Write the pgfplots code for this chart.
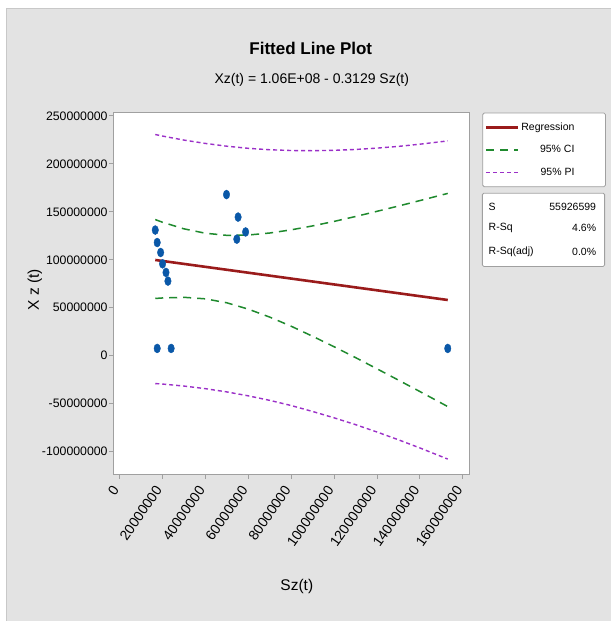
\documentclass[border=0pt]{standalone}
\usepackage{pgfplots}
\pgfplotsset{compat=1.18}
\usepackage{fontspec}
\setmainfont{Liberation Sans}
\definecolor{bg}{HTML}{E3E3E3}
\definecolor{bordergray}{HTML}{C8C8C8}
\definecolor{framegray}{HTML}{A0A0A0}
\definecolor{regred}{HTML}{9A1B1B}
\definecolor{cigreen}{HTML}{1F8A2E}
\definecolor{pipurple}{HTML}{9B30C8}
\definecolor{ptblue}{HTML}{0A58A8}

\pgfplotstableread{
x y
16.7 131
17.6 118
19.2 107.6
20.1 95.8
21.7 86.8
22.6 77.8
17.6 7.6
24.1 7.6
49.9 168
55.3 144.5
54.7 121.5
58.8 129
153 7.6
}\pts

\pgfplotstableread{
x ciu cil piu pil
16.7 141.9 59.7 230.6 -29.0
20 139.2 60.2 229.0 -29.5
30 132.3 60.9 224.8 -31.6
40 127.7 59.3 221.3 -34.3
50 125.5 55.2 218.4 -37.7
60 125.8 48.6 216.2 -41.8
70 127.9 40.3 214.7 -46.5
80 131.2 30.8 213.9 -51.9
90 135.3 20.3 213.7 -58.1
100 140.0 9.4 214.1 -64.7
110 145.1 -1.9 215.0 -71.8
120 150.5 -13.6 216.4 -79.5
130 156.0 -25.4 218.2 -87.6
140 161.7 -37.3 220.5 -96.1
153 169.2 -53.0 223.9 -107.7
}\bands

\begin{document}
\begin{tikzpicture}[x=1pt,y=1pt]
\fill[white] (0,0) rectangle (611,621);
\fill[bg] (6,0) rectangle (611,613);
\draw[bordergray, line width=0.8pt] (6,0) -- (6,613) -- (611,613);

\begin{axis}[
  at={(113.3pt,146pt)}, anchor=south west,
  scale only axis, width=356pt, height=362.3pt,
  xmin=-2.89, xmax=162.9, ymin=-124, ymax=253.4,
  axis background/.style={fill=white},
  axis line style={draw=framegray, line width=1pt},
  tick pos=left, tick align=outside, major tick length=4pt,
  tick style={framegray, line width=0.8pt},
  scaled ticks=false,
  xtick={0,20,40,60,80,100,120,140,160},
  xticklabels={0,20000000,40000000,60000000,80000000,100000000,120000000,140000000,160000000},
  ytick={-100,-50,0,50,100,150,200,250},
  yticklabels={-100000000,-50000000,0,50000000,100000000,150000000,200000000,250000000},
  xticklabel style={font=\fontsize{14}{16}\selectfont, xshift=-3pt, yshift=-8pt, rotate=55, anchor=east, inner sep=1pt},
  yticklabel style={font=\fontsize{12.3}{14}\selectfont, inner sep=1.5pt},
  /pgf/number format/assume math mode=true,
  legend image code/.code={\draw[#1] (0pt,0pt) -- (32pt,0pt);},
  legend style={at={(1,1)}, anchor=north west, xshift=13.4pt,
    draw=framegray, fill=white, rounded corners=1.5pt, line width=0.8pt,
    font=\fontsize{10.5}{12}\selectfont, cells={anchor=east},
    inner xsep=2pt, inner ysep=8pt, row sep=9.5pt},
]
\addplot[regred, line width=2.6pt] coordinates {(16.7,99.8) (153,58.1)};
\addlegendentry{Regression\rule{27pt}{0pt}}
\addplot[cigreen, line width=1.5pt, dash pattern=on 8pt off 6pt] table[x=x, y=ciu] {\bands};
\addlegendentry{95\% CI\rule{27pt}{0pt}}
\addplot[cigreen, line width=1.5pt, dash pattern=on 8pt off 6pt, forget plot] table[x=x, y=cil] {\bands};
\addplot[pipurple, line width=1.4pt, dash pattern=on 4pt off 3pt] table[x=x, y=piu] {\bands};
\addlegendentry{95\% PI\rule{27pt}{0pt}}
\addplot[pipurple, line width=1.4pt, dash pattern=on 4pt off 3pt, forget plot] table[x=x, y=pil] {\bands};
\addplot[only marks, mark=*, mark size=4.5pt, mark options={fill=ptblue, draw=ptblue, xscale=0.72}, forget plot] table[x=x, y=y] {\pts};
\end{axis}

% statistics box
\draw[framegray, fill=white, rounded corners=1.5pt, line width=0.8pt] (482.7,354.3) rectangle (605,427.7);
\begin{scope}[font=\fontsize{10.5}{12}\selectfont]
\node[anchor=west] at (485.5,414.3) {S};
\node[anchor=west] at (485.5,392.7) {R-Sq};
\node[anchor=west] at (485.5,369.3) {R-Sq(adj)};
\node[anchor=east] at (600,414.3) {55926599};
\node[anchor=east] at (600,392.7) {4.6\%};
\node[anchor=east] at (600,369.3) {0.0\%};
\end{scope}

% titles and axis labels
\node[font=\bfseries\fontsize{17}{20}\selectfont] at (311,573) {Fitted Line Plot};
\node[font=\fontsize{14}{17}\selectfont] at (312,541) {Xz(t) = 1.06E+08 - 0.3129 Sz(t)};
\node[font=\fontsize{15.5}{18}\selectfont] at (297,34) {Sz(t)};
\node[font=\fontsize{15.5}{18}\selectfont, rotate=90] at (35,331) {X z (t)};
\end{tikzpicture}
\end{document}
